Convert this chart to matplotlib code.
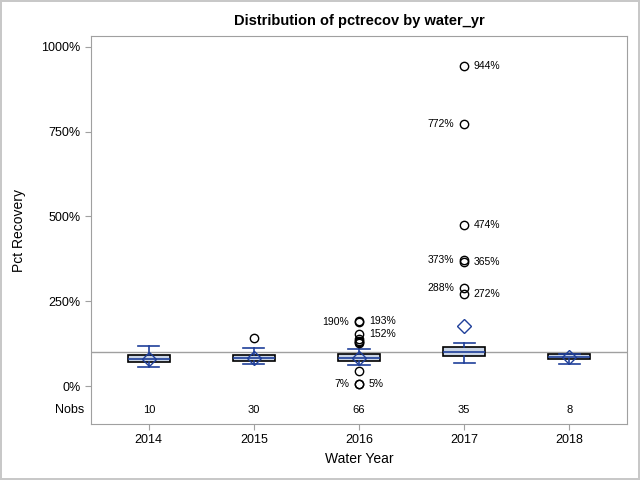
import matplotlib
matplotlib.use("Agg")
import matplotlib.pyplot as plt
from matplotlib.ticker import FuncFormatter

plt.rcParams['font.family'] = ['Liberation Sans', 'DejaVu Sans']

years = ["2014", "2015", "2016", "2017", "2018"]
nobs = [10, 30, 66, 35, 8]
q1 = [70, 75, 73, 88, 79]
medians = [80, 83, 84, 99, 86]
q3 = [91, 91, 94, 114, 94]
whis_lo = [55, 64, 61, 68, 64]
whis_hi = [117, 111, 110, 126, 95]
means = [80, 83, 83, 176, 85]
outliers = [
    [],
    [141],
    [193, 190, 152, 138, 134, 131, 128, 44, 7, 5],
    [944, 772, 474, 373, 365, 288, 272],
    [],
]
# labelled outliers: (year index, value, side)
labels = [
    (2, 190, "left"), (2, 193, "right"), (2, 152, "right"),
    (2, 7, "left"), (2, 5, "right"),
    (3, 944, "right"), (3, 772, "left"), (3, 474, "right"),
    (3, 373, "left"), (3, 365, "right"), (3, 288, "left"), (3, 272, "right"),
]

blue = "#1F3F9A"
fill = "#CAD5E5"
gray = "#A0A0A0"

fig = plt.figure(figsize=(6.4, 4.8), dpi=100)
fig.patch.set_edgecolor("#C8C8C8")
fig.patch.set_linewidth(1.5)
ax = fig.add_axes([91/640, 56/480, 536/640, 388/480])

stats = []
for i in range(len(years)):
    stats.append({"med": medians[i], "q1": q1[i], "q3": q3[i],
                  "whislo": whis_lo[i], "whishi": whis_hi[i],
                  "mean": means[i], "fliers": outliers[i]})

ax.axhline(100, color=gray, lw=1, zorder=1)

ax.bxp(stats, positions=range(len(years)), widths=0.4, patch_artist=True,
       showmeans=True, showfliers=True, zorder=3,
       boxprops=dict(facecolor=fill, edgecolor="black", lw=1.2),
       medianprops=dict(color=blue, lw=1.2),
       whiskerprops=dict(color=blue, lw=1.2),
       capprops=dict(color=blue, lw=1.2),
       meanprops=dict(marker="D", markerfacecolor="none", markeredgecolor=blue,
                      markersize=7, markeredgewidth=1),
       flierprops=dict(marker="o", markerfacecolor="none", markeredgecolor="black",
                       markersize=6, markeredgewidth=1))

for i, v, side in labels:
    if side == "right":
        ax.annotate("%d%%" % v, (i, v), xytext=(7, 0), textcoords="offset points",
                    ha="left", va="center", fontsize=7.5)
    else:
        ax.annotate("%d%%" % v, (i, v), xytext=(-7, 0), textcoords="offset points",
                    ha="right", va="center", fontsize=7.5)

for i, n in enumerate(nobs):
    ax.text(i, -71, str(n), ha="center", va="center", fontsize=8)
ax.text(-0.012, -71, "Nobs", transform=ax.get_yaxis_transform(),
        ha="right", va="center", fontsize=9)

ax.set_xlim(-0.55, 4.55)
ax.set_ylim(-112, 1032)
ax.set_xticks(range(len(years)))
ax.set_xticklabels(years)
ax.set_yticks([0, 250, 500, 750, 1000])
ax.yaxis.set_major_formatter(FuncFormatter(lambda v, p: "%d%%" % v))
ax.tick_params(labelsize=9, color=gray, length=4)
for s in ax.spines.values():
    s.set_color(gray)

ax.set_xlabel("Water Year", fontsize=10)
ax.set_ylabel("Pct Recovery", fontsize=10, labelpad=11)
ax.set_title("Distribution of pctrecov by water_yr", fontsize=10.5, fontweight="bold", pad=8)

fig.savefig("out.png", dpi=100, edgecolor=fig.get_edgecolor())
